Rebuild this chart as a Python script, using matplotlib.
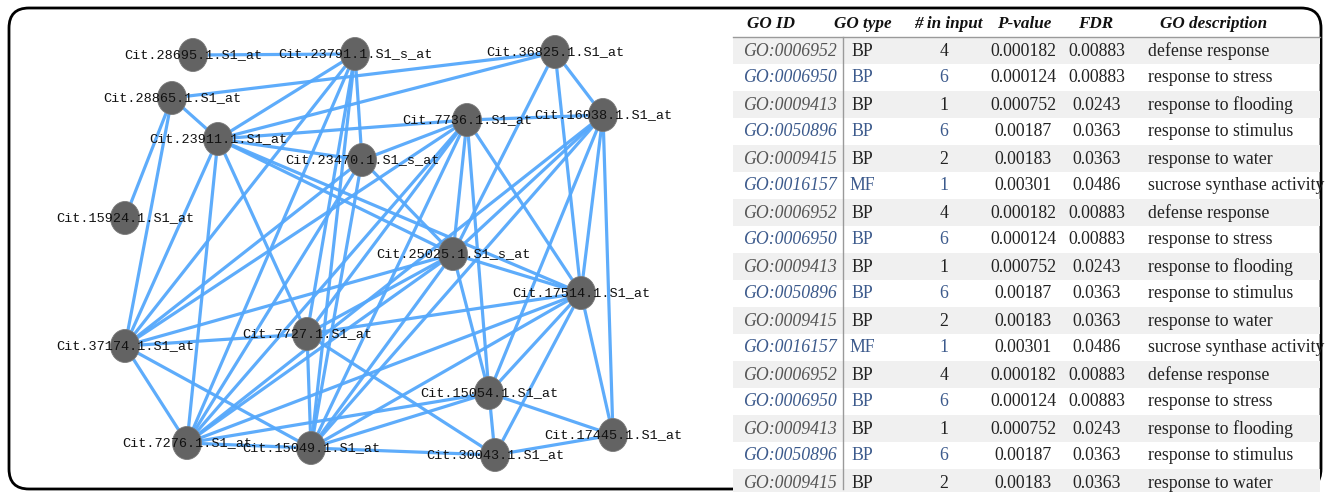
import matplotlib
matplotlib.use("Agg")
import matplotlib.pyplot as plt
from matplotlib.patches import Ellipse, FancyBboxPatch, Rectangle

# ---- network data (layout positions in pixels, y grows downwards) ----
node_ids = ["28695", "23791", "36825", "28865", "7736", "16038", "23911", "23470", "15924",
            "25025", "17514", "37174", "7727", "15054", "7276", "15049", "30043", "17445"]
node_suffix = ["S1_at", "S1_s_at", "S1_at", "S1_at", "S1_at", "S1_at", "S1_at", "S1_s_at", "S1_at",
               "S1_s_at", "S1_at", "S1_at", "S1_at", "S1_at", "S1_at", "S1_at", "S1_at", "S1_at"]
node_x = [193, 355, 555, 172, 467, 603, 218, 362, 125, 453, 581, 125, 307, 489, 187, 311, 495, 613]
node_y = [55, 54, 52, 98, 120, 115, 139, 160, 218, 254, 293, 346, 334, 393, 443, 448, 455, 435]

edges = [
    ("28695", "23791"),
    ("23791", "23911"), ("23791", "23470"), ("23791", "37174"), ("23791", "7276"),
    ("23791", "7727"), ("23791", "15049"),
    ("28865", "36825"), ("28865", "23911"), ("28865", "15924"), ("28865", "37174"),
    ("23911", "36825"), ("23911", "7736"), ("23911", "23470"), ("23911", "25025"),
    ("23911", "17514"), ("23911", "37174"), ("23911", "7276"), ("23911", "7727"),
    ("23470", "7736"), ("23470", "25025"), ("23470", "37174"), ("23470", "7276"),
    ("23470", "15049"),
    ("7736", "16038"), ("7736", "37174"), ("7736", "25025"), ("7736", "15054"),
    ("7736", "17514"), ("7736", "7727"), ("7736", "7276"), ("7736", "15049"),
    ("36825", "16038"), ("36825", "25025"), ("36825", "17514"),
    ("16038", "25025"), ("16038", "17514"), ("16038", "17445"), ("16038", "15054"),
    ("16038", "15049"), ("16038", "7276"),
    ("25025", "7276"), ("25025", "15049"), ("25025", "7727"), ("25025", "17514"),
    ("25025", "15054"), ("25025", "37174"),
    ("17514", "7727"), ("17514", "15054"), ("17514", "30043"), ("17514", "17445"),
    ("17514", "15049"), ("17514", "7276"),
    ("15054", "30043"), ("15054", "17445"), ("15054", "15049"), ("15054", "7276"),
    ("30043", "17445"), ("30043", "15049"), ("30043", "7727"),
    ("7276", "15049"), ("7276", "37174"), ("37174", "15049"), ("37174", "7727"),
    ("7727", "15049"),
]

# ---- GO enrichment table ----
go_ids = ["GO:0006952", "GO:0006950", "GO:0009413", "GO:0050896", "GO:0009415", "GO:0016157"]
go_types = ["BP", "BP", "BP", "BP", "BP", "MF"]
n_input = ["4", "6", "1", "6", "2", "1"]
p_values = ["0.000182", "0.000124", "0.000752", "0.00187", "0.00183", "0.00301"]
fdr_values = ["0.00883", "0.00883", "0.0243", "0.0363", "0.0363", "0.0486"]
descriptions = ["defense response", "response to stress", "response to flooding",
                "response to stimulus", "response to water", "sucrose synthase activity"]
headers = ["GO ID", "GO type", "# in input", "P-value", "FDR", "GO description"]
n_rows_shown = 17

EDGE_COLOR = "#55a8fb"
NODE_COLOR = "#636363"
BLUE_TXT = "#3c5a8c"

fig = plt.figure(figsize=(13.3, 4.92), dpi=100)
ax = fig.add_axes([0, 0, 1, 1])
ax.set_xlim(0, 1330)
ax.set_ylim(492, 0)
ax.axis("off")

# rounded frame
frame = FancyBboxPatch((9, 8), 1312, 481, boxstyle="round,pad=0,rounding_size=20",
                       fc="white", ec="black", lw=2.0, zorder=0)
ax.add_patch(frame)

# ---- network ----
pos = {nid: (x, y) for nid, x, y in zip(node_ids, node_x, node_y)}
for a, b in edges:
    ax.plot([pos[a][0], pos[b][0]], [pos[a][1], pos[b][1]], color=EDGE_COLOR,
            lw=2.3, alpha=0.95, solid_capstyle="round", zorder=1)

for nid, suf, x, y in zip(node_ids, node_suffix, node_x, node_y):
    ax.add_patch(Ellipse((x, y), 29, 33, fc=NODE_COLOR, ec="#7a7a7a", lw=0.6, zorder=2))
    ax.text(x, y, f"Cit.{nid}.1.{suf}", ha="center", va="center", fontsize=9.7,
            family="Liberation Mono", color="#111111", zorder=3)

# ---- table ----
col_x = [790, 862, 944, 1023, 1097, 1148]
head_x = [771, 863, 948, 1024, 1096, 1214]
row_top = 37
row_h = 27.0
tbl_left, tbl_right = 733, 1320

for hx, h in zip(head_x, headers):
    ax.text(hx, 24, h, ha="center", va="center", fontsize=12.3, family="Liberation Serif",
            weight="bold", style="italic", color="#111111")

ax.plot([tbl_left, tbl_right], [row_top, row_top], color="#9a9a9a", lw=1.0, zorder=2)

for r in range(n_rows_shown):
    k = r % len(go_ids)
    y0 = row_top + r * row_h
    yc = y0 + row_h / 2 + 0.5
    if r % 2 == 0:
        ax.add_patch(Rectangle((tbl_left, y0), tbl_right - tbl_left, row_h,
                               fc="#f0f0f0", ec="none", zorder=1))
        c_id, c_main = "#555555", "#222222"
    else:
        c_id, c_main = BLUE_TXT, BLUE_TXT
    cells = [go_ids[k], go_types[k], n_input[k], p_values[k], fdr_values[k], descriptions[k]]
    colors = [c_id, c_main, c_main, "#222222", "#222222", "#222222"]
    for j, (cx, txt, col) in enumerate(zip(col_x, cells, colors)):
        ax.text(cx, yc, txt, ha="left" if j == 5 else "center", va="center",
                fontsize=12.8, family="Liberation Serif",
                style="italic" if j == 0 else "normal", color=col, zorder=3)

ax.plot([843, 843], [row_top, 489], color="#9a9a9a", lw=1.0, zorder=2)

fig.savefig("out.png", dpi=100)
